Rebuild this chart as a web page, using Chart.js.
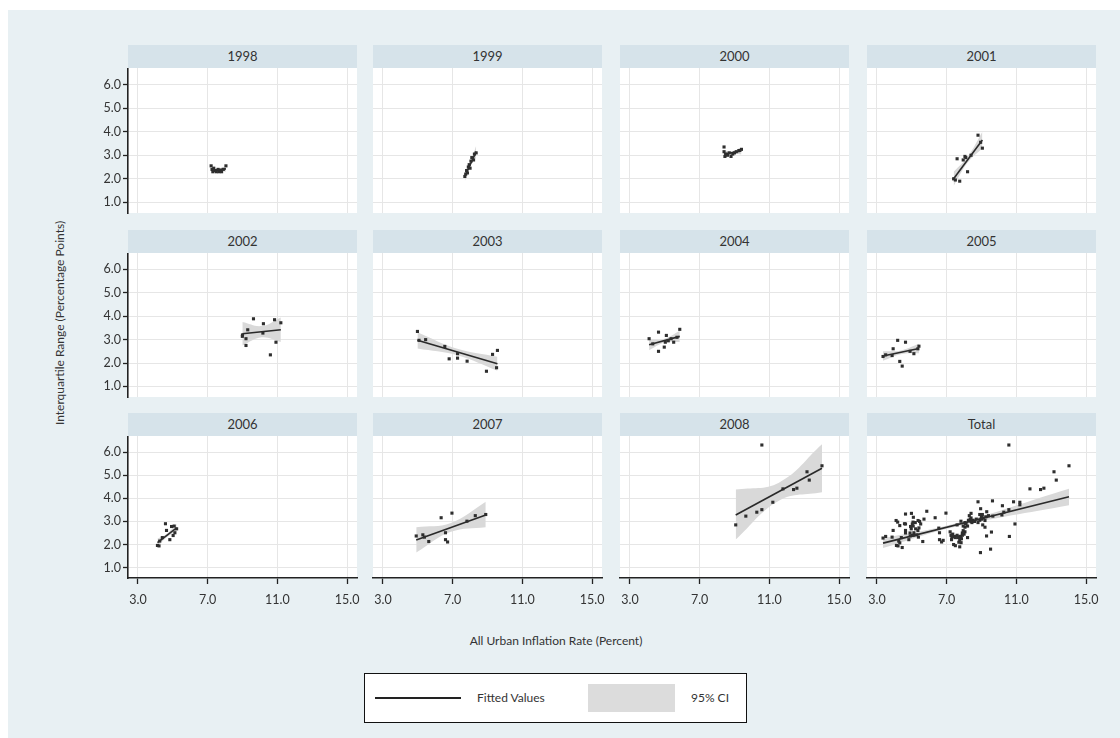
<!DOCTYPE html>
<html>
<head>
<meta charset="utf-8">
<script src="https://cdn.jsdelivr.net/npm/chart.js@4.4.1/dist/chart.umd.min.js"></script>
<style>
  body { margin: 0; background: #fff; }
  #page { position: relative; width: 1120px; height: 738px; overflow: hidden; background: #fff;
          font-family: Lato, "Open Sans", sans-serif; color: #333; }
  #bg { position: absolute; left: 8px; top: 10px; right: 0; bottom: 0; background: #e8f0f3; }
  .hdr { position: absolute; height: 23px; line-height: 23px; text-align: center; background: #d6e3ea; font-size: 13px; }
  canvas { position: absolute; }
  #ytitle { position: absolute; left: 59px; top: 323px; transform: translate(-50%, -50%) rotate(-90deg);
            white-space: nowrap; font-size: 12px; }
  #xtitle { position: absolute; left: 556px; top: 640px; transform: translate(-50%, -50%); white-space: nowrap; font-size: 12px; }
  #legend { position: absolute; left: 364px; top: 673px; width: 381px; height: 48px; border: 1px solid #111; background: #fff; }
  #legend .ln { position: absolute; left: 10px; top: 23px; width: 86px; height: 0; border-top: 2px solid #222; }
  #legend .t1 { position: absolute; left: 112px; top: 16px; font-size: 12px; }
  #legend .box { position: absolute; left: 223px; top: 10px; width: 87px; height: 28px; background: #dcdcdc; }
  #legend .t2 { position: absolute; left: 326px; top: 16px; font-size: 12px; }
</style>
</head>
<body>
<div id="page">
  <div id="bg"></div>
  <div id="ytitle">Interquartile Range (Percentage Points)</div>
  <div id="xtitle">All Urban Inflation Rate (Percent)</div>
  <div id="legend">
    <div class="ln"></div><div class="t1">Fitted Values</div>
    <div class="box"></div><div class="t2">95% CI</div>
  </div>
</div>
<script>
const years = ['1998', '1999', '2000', '2001', '2002', '2003', '2004', '2005', '2006', '2007', '2008', 'Total'];
const xTicks = [3, 7, 11, 15];
const yTicks = [1, 2, 3, 4, 5, 6];

// scatter points, one pair per year
const x1998 = [7.2, 7.25, 7.3, 7.35, 7.45, 7.5, 7.6, 7.65, 7.75, 7.8, 7.9, 8.05];
const y1998 = [2.55, 2.4, 2.3, 2.45, 2.35, 2.3, 2.4, 2.3, 2.35, 2.3, 2.4, 2.55];
const x1999 = [7.7, 7.75, 7.8, 7.85, 7.9, 7.95, 8.0, 8.05, 8.1, 8.2, 8.25, 8.35];
const y1999 = [2.1, 2.2, 2.35, 2.25, 2.5, 2.6, 2.45, 2.75, 2.9, 2.8, 3.05, 3.1];
const x2000 = [8.4, 8.4, 8.45, 8.5, 8.6, 8.7, 8.8, 8.9, 9.0, 9.1, 9.25, 9.4];
const y2000 = [3.35, 3.15, 2.95, 3.05, 3.0, 3.1, 2.95, 3.05, 3.1, 3.15, 3.2, 3.25];
const x2001 = [7.4, 7.5, 7.6, 7.75, 7.95, 8.05, 8.1, 8.2, 8.4, 8.8, 8.95, 9.05];
const y2001 = [2.0, 1.95, 2.85, 1.9, 2.8, 2.95, 2.9, 2.3, 3.0, 3.85, 3.55, 3.3];
const x2002 = [8.99, 9.0, 9.2, 9.2, 9.3, 9.63, 10.17, 10.2, 10.6, 10.84, 10.92, 11.2];
const y2002 = [3.14, 3.2, 3.04, 2.75, 3.42, 3.89, 3.28, 3.68, 2.35, 3.85, 2.89, 3.72];
const x2003 = [4.98, 5.07, 5.45, 6.55, 6.8, 7.28, 7.28, 7.83, 8.94, 9.29, 9.52, 9.57];
const y2003 = [3.35, 2.97, 3.0, 2.71, 2.18, 2.21, 2.4, 2.08, 1.65, 2.37, 1.8, 2.54];
const x2004 = [4.1, 4.31, 4.64, 4.64, 4.97, 5.03, 5.09, 5.2, 5.36, 5.51, 5.7, 5.86];
const y2004 = [3.04, 2.82, 3.32, 2.5, 2.68, 2.89, 3.18, 2.95, 3.04, 2.89, 3.1, 3.44];
const x2005 = [3.35, 3.5, 3.87, 3.93, 4.19, 4.31, 4.45, 4.64, 4.9, 5.12, 5.35, 5.41];
const y2005 = [2.28, 2.35, 2.32, 2.61, 2.97, 2.07, 1.87, 2.89, 2.5, 2.4, 2.61, 2.72];
const x2006 = [4.12, 4.21, 4.25, 4.4, 4.58, 4.64, 4.83, 4.93, 5.02, 5.08, 5.12, 5.22];
const y2006 = [1.96, 1.94, 2.15, 2.3, 2.9, 2.61, 2.21, 2.78, 2.39, 2.8, 2.51, 2.68];
const x2007 = [4.91, 5.29, 5.38, 5.63, 6.34, 6.59, 6.59, 6.71, 6.96, 7.82, 8.3, 8.9];
const y2007 = [2.37, 2.42, 2.32, 2.13, 3.16, 2.51, 2.21, 2.11, 3.36, 3.01, 3.25, 3.3];
const x2008 = [9.07, 9.65, 10.28, 10.57, 10.57, 11.2, 11.78, 12.39, 12.58, 13.16, 13.29, 14.02];
const y2008 = [2.85, 3.23, 3.4, 3.51, 6.31, 3.83, 4.41, 4.38, 4.44, 5.15, 4.79, 5.41];
// the Total panel shows every yearly point together
const xTotal = [].concat(x1998, x1999, x2000, x2001, x2002, x2003, x2004, x2005, x2006, x2007, x2008);
const yTotal = [].concat(y1998, y1999, y2000, y2001, y2002, y2003, y2004, y2005, y2006, y2007, y2008);

// fitted lines (two ends) and 95% CI band (left, middle, right)
const fitX1998 = [7.2, 8.05], fitY1998 = [2.36, 2.42];
const ciX1998 = [7.2, 7.62, 8.05], ciLo1998 = [2.26, 2.34, 2.3], ciHi1998 = [2.46, 2.44, 2.54];
const fitX1999 = [7.7, 8.35], fitY1999 = [2.1, 3.15];
const ciX1999 = [7.7, 8.02, 8.35], ciLo1999 = [1.9, 2.55, 2.9], ciHi1999 = [2.3, 2.7, 3.4];
const fitX2000 = [8.4, 9.4], fitY2000 = [3.05, 3.18];
const ciX2000 = [8.4, 8.9, 9.4], ciLo2000 = [2.9, 3.05, 3.03], ciHi2000 = [3.2, 3.18, 3.33];
const fitX2001 = [7.4, 9.05], fitY2001 = [2.0, 3.65];
const ciX2001 = [7.4, 8.22, 9.05], ciLo2001 = [1.7, 2.7, 3.3], ciHi2001 = [2.3, 2.95, 4.0];
const fitX2002 = [8.99, 11.2], fitY2002 = [3.25, 3.42];
const ciX2002 = [8.99, 10.1, 11.2], ciLo2002 = [2.75, 3.1, 2.9], ciHi2002 = [3.75, 3.58, 3.95];
const fitX2003 = [4.98, 9.57], fitY2003 = [2.97, 1.97];
const ciX2003 = [4.98, 7.27, 9.57], ciLo2003 = [2.62, 2.33, 1.67], ciHi2003 = [3.32, 2.61, 2.27];
const fitX2004 = [4.1, 5.86], fitY2004 = [2.78, 3.14];
const ciX2004 = [4.1, 4.98, 5.86], ciLo2004 = [2.55, 2.88, 2.9], ciHi2004 = [3.0, 3.04, 3.38];
const fitX2005 = [3.35, 5.41], fitY2005 = [2.3, 2.62];
const ciX2005 = [3.35, 4.38, 5.41], ciLo2005 = [2.1, 2.38, 2.42], ciHi2005 = [2.5, 2.54, 2.82];
const fitX2006 = [4.12, 5.22], fitY2006 = [2.08, 2.72];
const ciX2006 = [4.12, 4.67, 5.22], ciLo2006 = [1.9, 2.33, 2.55], ciHi2006 = [2.26, 2.47, 2.9];
const fitX2007 = [4.91, 8.9], fitY2007 = [2.2, 3.28];
const ciX2007 = [4.91, 6.9, 8.9], ciLo2007 = [1.65, 2.55, 2.75], ciHi2007 = [2.75, 2.93, 3.85];
const fitX2008 = [9.07, 14.02], fitY2008 = [3.28, 5.3];
const ciX2008 = [9.07, 11.55, 14.02], ciLo2008 = [2.22, 3.9, 4.26], ciHi2008 = [4.38, 4.68, 6.34];
const fitXTotal = [3.35, 14.02], fitYTotal = [2.06, 4.07];
const ciXTotal = [3.35, 7.5, 14.02], ciLoTotal = [1.85, 2.77, 3.7], ciHiTotal = [2.27, 2.91, 4.42];

const panels = [
    [x1998, y1998, fitX1998, fitY1998, ciX1998, ciLo1998, ciHi1998],
    [x1999, y1999, fitX1999, fitY1999, ciX1999, ciLo1999, ciHi1999],
    [x2000, y2000, fitX2000, fitY2000, ciX2000, ciLo2000, ciHi2000],
    [x2001, y2001, fitX2001, fitY2001, ciX2001, ciLo2001, ciHi2001],
    [x2002, y2002, fitX2002, fitY2002, ciX2002, ciLo2002, ciHi2002],
    [x2003, y2003, fitX2003, fitY2003, ciX2003, ciLo2003, ciHi2003],
    [x2004, y2004, fitX2004, fitY2004, ciX2004, ciLo2004, ciHi2004],
    [x2005, y2005, fitX2005, fitY2005, ciX2005, ciLo2005, ciHi2005],
    [x2006, y2006, fitX2006, fitY2006, ciX2006, ciLo2006, ciHi2006],
    [x2007, y2007, fitX2007, fitY2007, ciX2007, ciLo2007, ciHi2007],
    [x2008, y2008, fitX2008, fitY2008, ciX2008, ciLo2008, ciHi2008],
    [xTotal, yTotal, fitXTotal, fitYTotal, ciXTotal, ciLoTotal, ciHiTotal]
];

// ── layout ───────────────────────────────────────────
const colLeft = [128, 373, 620, 867];
const rowTop = [68, 253, 436];
const rowH = [145, 144, 142];
const plotW = 229;
const AXW = 45, AXH = 40, PADR = 20;
const FONT = 'Lato, "Open Sans", sans-serif';

const pts = (xs, ys) => xs.map((x, i) => ({ x: x, y: ys[i] }));

const plotBg = {
    id: 'plotBg',
    beforeDraw(chart) {
        const a = chart.chartArea, ctx = chart.ctx;
        ctx.save();
        ctx.fillStyle = '#ffffff';
        ctx.fillRect(a.left, a.top, a.right - a.left, a.bottom - a.top);
        ctx.restore();
    }
};

const page = document.getElementById('page');

panels.forEach(function (p, i) {
    const col = i % 4, row = Math.floor(i / 4);
    const showY = col === 0, showX = row === 2;

    const hdr = document.createElement('div');
    hdr.className = 'hdr';
    hdr.style.left = colLeft[col] + 'px';
    hdr.style.top = (rowTop[row] - 23) + 'px';
    hdr.style.width = plotW + 'px';
    hdr.textContent = years[i];
    page.appendChild(hdr);

    const canvas = document.createElement('canvas');
    canvas.width = AXW + plotW + PADR;
    canvas.height = rowH[row] + AXH;
    canvas.style.left = (colLeft[col] - AXW) + 'px';
    canvas.style.top = rowTop[row] + 'px';
    page.appendChild(canvas);

    new Chart(canvas, {
        type: 'scatter',
        data: {
            datasets: [
                { data: pts(p[0], p[1]), pointStyle: 'rect', pointRadius: 2.2, backgroundColor: '#2e2e2e', borderWidth: 0, order: 0 },
                { type: 'line', showLine: true, data: pts(p[2], p[3]), borderColor: '#2a2a2a', borderWidth: 1.6, pointRadius: 0, fill: false, order: 1 },
                { type: 'line', showLine: true, data: pts(p[4], p[6]), borderColor: 'rgba(0,0,0,0)', borderWidth: 0, pointRadius: 0,
                  backgroundColor: '#d9d9d9', fill: '+1', tension: 0.4, order: 2 },
                { type: 'line', showLine: true, data: pts(p[4], p[5]), borderColor: 'rgba(0,0,0,0)', borderWidth: 0, pointRadius: 0,
                  fill: false, tension: 0.4, order: 3 }
            ]
        },
        options: {
            responsive: false, animation: false, events: [],
            layout: { autoPadding: false, padding: { left: 0, top: 0, right: PADR, bottom: 0 } },
            plugins: { legend: { display: false }, tooltip: { enabled: false } },
            scales: {
                x: {
                    type: 'linear', min: 2.43, max: 15.57,
                    afterBuildTicks: s => { s.ticks = xTicks.map(v => ({ value: v })); },
                    afterFit: s => { s.height = AXH; s.paddingLeft = 0; s.paddingRight = 0; },
                    grid: { color: '#e6e6e6', lineWidth: 1, drawTicks: showX, tickLength: 6, tickColor: '#222', tickWidth: 1.3 },
                    border: { display: showX, color: '#222', width: 1.6 },
                    ticks: { display: showX, padding: 8, color: '#333', autoSkip: false, maxRotation: 0,
                             font: { family: FONT, size: 12.5 }, callback: v => v.toFixed(1) }
                },
                y: {
                    type: 'linear', min: 0.55, max: 6.7,
                    afterBuildTicks: s => { s.ticks = yTicks.map(v => ({ value: v })); },
                    afterFit: s => { s.width = AXW; s.paddingTop = 0; s.paddingBottom = 0; },
                    grid: { color: '#e6e6e6', lineWidth: 1, drawTicks: showY, tickLength: 5, tickColor: '#222', tickWidth: 1.3 },
                    border: { display: showY, color: '#222', width: 1.6 },
                    ticks: { display: showY, padding: 2, color: '#333', autoSkip: false,
                             font: { family: FONT, size: 12.5 }, callback: v => v.toFixed(1) }
                }
            }
        },
        plugins: [plotBg]
    });
});
</script>
</body>
</html>
